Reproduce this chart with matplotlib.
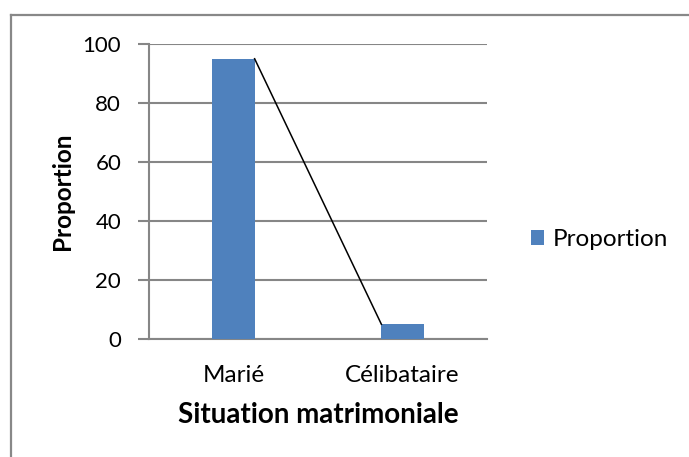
import matplotlib
matplotlib.use('Agg')
import matplotlib.pyplot as plt
from matplotlib.lines import Line2D

categories = ['Marié', 'Célibataire']
proportion = [95, 5]
y_ticks = [0, 20, 40, 60, 80, 100]

plt.rcParams['font.family'] = ['Lato', 'DejaVu Sans']

fig = plt.figure(figsize=(6.89, 4.57), dpi=100)
ax = fig.add_axes([149/689, 1 - 339/457, 338/689, 295/457])

x = list(range(len(categories)))
width = 0.25
bars = ax.bar(x, proportion, width, color='#4F81BD', label='Proportion', zorder=3)

# black connector from the top corner of one bar to the next
ax.plot([x[0] + width/2, x[1] - width/2], proportion, color='black', lw=1.1, zorder=4)

ax.set_xlim(-0.5, 1.5)
ax.set_ylim(0, 100)
ax.set_yticks(y_ticks)
ax.set_xticks(x)
ax.set_xticklabels(categories, fontsize=17.5)
ax.tick_params(axis='y', labelsize=16, length=8, width=1.5, color='#868686', pad=12)
ax.tick_params(axis='x', length=0, pad=19)
ax.grid(axis='y', color='#868686', lw=1.5, zorder=0)
for s in ['top', 'right']:
    ax.spines[s].set_visible(False)
ax.spines['left'].set_color('#868686')
ax.spines['left'].set_linewidth(1.5)
ax.spines['bottom'].set_color('#868686')
ax.spines['bottom'].set_linewidth(1.5)

ax.set_xlabel('Situation matrimoniale', fontsize=20, fontweight='bold', labelpad=11)
ax.set_ylabel('Proportion', fontsize=17.5, fontweight='bold', labelpad=6)

ax.legend(loc='center left', bbox_to_anchor=(1.1, 0.336), frameon=False, fontsize=17.5,
          handlelength=0.55, handleheight=0.55, handletextpad=0.35, borderaxespad=0)

# outer chart border (only top and left edges are inside the image)
fig.add_artist(Line2D([11/689, 11/689], [0, 1 - 15/457], transform=fig.transFigure,
                      color='#888888', lw=1.6))
fig.add_artist(Line2D([11/689, 1], [1 - 15/457, 1 - 15/457], transform=fig.transFigure,
                      color='#888888', lw=1.6))

plt.savefig('out.png', dpi=100)
